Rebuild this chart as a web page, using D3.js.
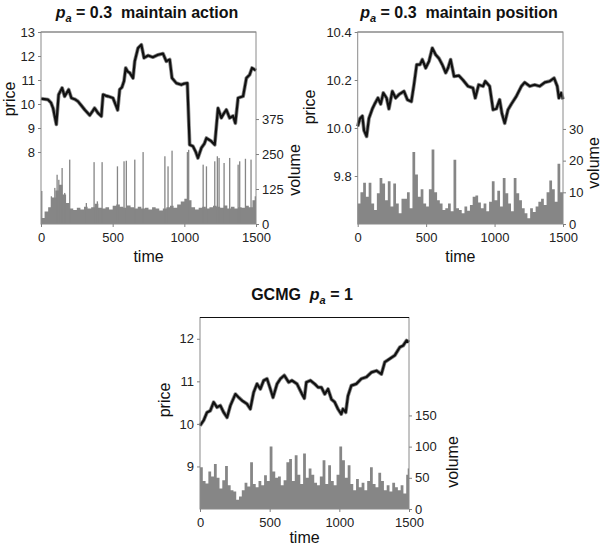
<!DOCTYPE html>
<html lang="en">
<head>
  <meta charset="utf-8">
  <title>price and volume</title>
  <script src="https://cdn.jsdelivr.net/npm/d3@7"></script>
  <style>
  body { margin: 0; background: #fff; }
  svg { font-family: Arial, "Liberation Sans", sans-serif; }
  .tick text { fill: #222; font-size: 13px; }
  .tick line { stroke: #808080; }
  </style>
</head>
<body>
<script>
// ---- data ----
var timeTicks = [0, 500, 1000, 1500];

// panel 1 : pa = 0.3 maintain action
var priceAction = [[0,10.22],[25,10.2],[49,10.18],[70,10.05],[84,9.83],[107,9.15],[123,10.39],[147,10.67],[165,10.32],[193,10.6],[212,10.25],[235,10.2],[258,10.11],[280,9.95],[305,9.76],[340,9.53],[360,9.7],[374,9.83],[398,9.62],[421,9.49],[433,10.39],[450,10.35],[468,10.32],[502,10.25],[525,9.9],[535,9.75],[549,10.6],[565,10.7],[579,10.95],[591,11.5],[605,11.35],[619,11.3],[642,11.08],[654,11.78],[677,12.33],[700,12.47],[719,11.92],[747,12.02],[780,11.95],[817,12.05],[851,12.1],[874,11.78],[898,11.85],[914,11.08],[944,10.87],[979,10.8],[1000,10.85],[1021,10.87],[1037,8.3],[1060,8.24],[1080,8.0],[1095,7.75],[1119,8.17],[1140,8.35],[1154,8.58],[1175,8.5],[1188,8.45],[1212,8.3],[1235,9.83],[1258,9.42],[1275,9.6],[1293,9.76],[1316,9.42],[1340,9.5],[1356,9.2],[1375,10.25],[1410,10.32],[1433,11.08],[1456,11.22],[1472,11.5],[1491,11.43],[1500,11.4]];
var volStepAction = 25;
var volAction = [21,45,60,95,120,140,105,75,55,50,58,52,62,55,60,72,58,55,60,52,65,70,62,58,66,60,55,62,55,58,52,60,55,48,55,60,65,58,70,80,90,85,60,52,58,62,55,60,65,62,58,66,55,62,55,60,58,65,60,85];
var spikesAction = [[5,118],[72,99],[96,129],[112,176],[124,158],[147,200],[165,111],[200,230],[316,75],[370,221],[393,81],[426,221],[533,206],[579,224],[595,226],[654,230],[712,257],[864,242],[886,206],[914,262],[1021,257],[1030,265],[1131,212],[1154,206],[1212,224],[1230,242],[1242,236],[1277,218],[1316,236],[1375,212],[1386,224],[1426,233],[1465,230],[1495,99]];

// panel 2 : pa = 0.3 maintain position
var pricePosition = [[0,10.007],[17,10.04],[34,10.05],[46,9.99],[65,9.965],[82,10.04],[107,10.08],[124,10.1],[148,10.125],[168,10.1],[187,10.146],[211,10.125],[228,10.08],[253,10.153],[277,10.125],[302,10.14],[338,10.153],[363,10.118],[392,10.11],[411,10.18],[431,10.264],[455,10.264],[472,10.285],[497,10.25],[521,10.278],[545,10.333],[570,10.305],[594,10.29],[618,10.264],[643,10.23],[660,10.25],[679,10.285],[704,10.215],[740,10.218],[769,10.2],[806,10.174],[842,10.167],[859,10.125],[884,10.18],[916,10.174],[932,10.195],[964,10.174],[989,10.076],[1013,10.08],[1037,10.118],[1054,10.06],[1074,10.02],[1098,10.076],[1123,10.1],[1159,10.132],[1196,10.174],[1220,10.19],[1257,10.174],[1293,10.18],[1330,10.174],[1367,10.19],[1403,10.195],[1435,10.208],[1458,10.174],[1470,10.125],[1487,10.146],[1500,10.12]];
var volStepPosition = 20;
var volPosition = [6.5,10,13,8.6,13,6.5,4.4,9.7,14.5,12.8,7.5,13.5,5.5,12.8,6.5,3.4,8,8,10,5,22.7,15.6,8.6,11,6.5,5.5,11,23.5,10,7.5,6.5,4.4,5,6.5,4,20.3,5,4.4,3.4,5.5,4.2,6,8.6,9,6.8,5,6.5,4,7,13.5,7.5,10.5,5.5,14.5,9.7,6.5,4,14.5,9.7,7.5,5,3.4,1.8,5,3.8,5.5,7,8,6,10,13.7,11,7,19,10];

// panel 3 : GCMG pa = 1
var priceGcmg = [[0,9.96],[26,10.08],[50,10.27],[74,10.31],[98,10.51],[122,10.39],[146,10.43],[170,10.27],[194,10.15],[218,10.43],[254,10.7],[278,10.62],[301,10.55],[337,10.47],[361,10.35],[385,10.74],[409,10.94],[433,10.82],[457,11.02],[481,11.06],[505,10.82],[524,10.62],[553,10.94],[577,11.06],[605,11.14],[636,10.98],[660,11.02],[696,10.94],[732,10.7],[749,10.6],[763,10.98],[792,11.02],[823,10.94],[847,10.86],[871,10.86],[895,10.7],[919,10.82],[943,10.58],[967,10.51],[990,10.35],[1014,10.23],[1026,10.35],[1046,10.27],[1062,10.66],[1086,10.9],[1122,10.94],[1158,11.06],[1194,11.1],[1230,11.21],[1266,11.25],[1302,11.17],[1326,11.45],[1362,11.53],[1398,11.61],[1434,11.8],[1458,11.84],[1482,11.96],[1500,11.92]];
var volStepGcmg = 20;
var volGcmg = [67,45,41,60,52,72,50,33,46,69,38,30,28,15,20,30,42,36,75,40,35,45,38,54,45,100,60,50,52,38,46,75,80,45,86,55,40,89,50,65,55,42,38,52,78,40,70,45,38,55,100,78,50,70,40,30,48,35,42,30,45,67,40,35,58,45,30,38,28,42,35,30,38,25,55];
var spikesGcmg = [[1495,65]];

var svg = d3.select("body").append("svg")
  .attr("width", 603)
  .attr("height", 548);

function drawPanel(o) {
  var x = d3.scaleLinear().domain([0, 1500]).range([o.left, o.right]);
  var yP = d3.scaleLinear().domain(o.priceDomain).range([o.bottom, o.top]);
  var yV = d3.scaleLinear().domain(o.volDomain).range([o.bottom, o.top]);
  var g = svg.append("g");

  // volume: stepped area for the body, thin bars for the spikes
  var steps = o.vol.map(function(v, i) { return [i * o.step, v]; });
  steps.push([1500, o.vol[o.vol.length - 1]]);
  var area = d3.area().curve(d3.curveStepAfter)
    .x(function(d) { return x(d[0]); })
    .y0(yV(0))
    .y1(function(d) { return yV(d[1]); });
  g.append("path").datum(steps).attr("d", area).attr("fill", "#868686");

  g.selectAll(null).data(o.spikes).enter().append("rect")
    .attr("x", function(d) { return x(d[0]) - 0.6; })
    .attr("width", 1.3)
    .attr("y", function(d) { return yV(d[1]); })
    .attr("height", function(d) { return yV(0) - yV(d[1]); })
    .attr("fill", "#868686");

  // price line
  var line = d3.line().x(function(d) { return x(d[0]); }).y(function(d) { return yP(d[1]); });
  g.append("path").datum(o.price)
    .attr("d", line).attr("fill", "none")
    .attr("stroke", "#8c8c8c").attr("stroke-width", 3.8).attr("stroke-linejoin", "round");
  g.append("path").datum(o.price)
    .attr("d", line).attr("fill", "none")
    .attr("stroke", "#111").attr("stroke-width", 2.2).attr("stroke-linejoin", "round");

  // frame
  g.append("rect")
    .attr("x", o.left).attr("y", o.top)
    .attr("width", o.right - o.left).attr("height", o.bottom - o.top)
    .attr("fill", "none").attr("stroke", "#8a8a8a").attr("stroke-width", 1);
  g.append("line")
    .attr("x1", o.left).attr("x2", o.right).attr("y1", o.top).attr("y2", o.top)
    .attr("stroke", o.topColor).attr("stroke-width", 1.2);

  // axes
  var ax = g.append("g").attr("transform", "translate(0," + o.bottom + ")")
    .call(d3.axisBottom(x).tickValues(timeTicks).tickFormat(d3.format("d")).tickSize(3).tickPadding(6));
  ax.select(".domain").remove();
  var ay = g.append("g").attr("transform", "translate(" + o.left + ",0)")
    .call(d3.axisLeft(yP).tickValues(o.priceTicks).tickFormat(d3.format(o.priceFmt)).tickSize(3).tickPadding(3));
  ay.select(".domain").remove();
  var av = g.append("g").attr("transform", "translate(" + o.right + ",0)")
    .call(d3.axisRight(yV).tickValues(o.volTicks).tickFormat(d3.format("d")).tickSize(3).tickPadding(3));
  av.select(".domain").remove();

  // labels
  g.append("text").attr("x", (o.left + o.right) / 2).attr("y", o.timeY)
    .attr("text-anchor", "middle").attr("font-size", 16).attr("fill", "#111").text("time");
  g.append("text")
    .attr("transform", "translate(" + o.priceLabel[0] + "," + o.priceLabel[1] + ") rotate(-90)")
    .attr("text-anchor", "middle").attr("dy", "0.35em")
    .attr("font-size", 16).attr("fill", "#111").text("price");
  g.append("text")
    .attr("transform", "translate(" + o.volLabel[0] + "," + o.volLabel[1] + ") rotate(-90)")
    .attr("text-anchor", "middle").attr("dy", "0.35em")
    .attr("font-size", 16).attr("fill", "#111").text("volume");

  var t = g.append("text").attr("x", o.titleX).attr("y", o.titleY)
    .attr("text-anchor", "middle").attr("font-size", 16).attr("font-weight", "bold").attr("fill", "#111");
  if (o.titlePre) t.append("tspan").text(o.titlePre + "\u00a0\u00a0");
  t.append("tspan").attr("font-style", "italic").text("p");
  t.append("tspan").attr("font-style", "italic").attr("font-size", 11).attr("dy", 4).text("a");
  t.append("tspan").attr("dy", -4).text("\u00a0= " + o.titlePost);
}

drawPanel({
  left: 41, right: 256, top: 32, bottom: 224,
  priceDomain: [5, 13], volDomain: [0, 686],
  priceTicks: [8, 9, 10, 11, 12, 13], priceFmt: "d", volTicks: [0, 125, 250, 375],
  price: priceAction, vol: volAction, step: volStepAction, spikes: spikesAction,
  topColor: "#8a8a8a", timeY: 262,
  priceLabel: [9, 99], volLabel: [294, 170],
  titleX: 147, titleY: 18, titlePost: "0.3\u00a0\u00a0maintain action"
});

drawPanel({
  left: 357.7, right: 563, top: 32, bottom: 224,
  priceDomain: [9.6, 10.4], volDomain: [0, 60.6],
  priceTicks: [9.8, 10.0, 10.2, 10.4], priceFmt: ".1f", volTicks: [0, 10, 20, 30],
  price: pricePosition, vol: volPosition, step: volStepPosition, spikes: [],
  topColor: "#8a8a8a", timeY: 262,
  priceLabel: [309, 107], volLabel: [593, 163],
  titleX: 459, titleY: 18, titlePost: "0.3\u00a0\u00a0maintain position"
});

drawPanel({
  left: 200, right: 409, top: 317.5, bottom: 509,
  priceDomain: [8, 12.5], volDomain: [0, 307],
  priceTicks: [9, 10, 11, 12], priceFmt: "d", volTicks: [0, 50, 100, 150],
  price: priceGcmg, vol: volGcmg, step: volStepGcmg, spikes: spikesGcmg,
  topColor: "#111", timeY: 543,
  priceLabel: [164, 400], volLabel: [452, 462],
  titleX: 302, titleY: 300, titlePre: "GCMG", titlePost: "1"
});
</script>
</body>
</html>
